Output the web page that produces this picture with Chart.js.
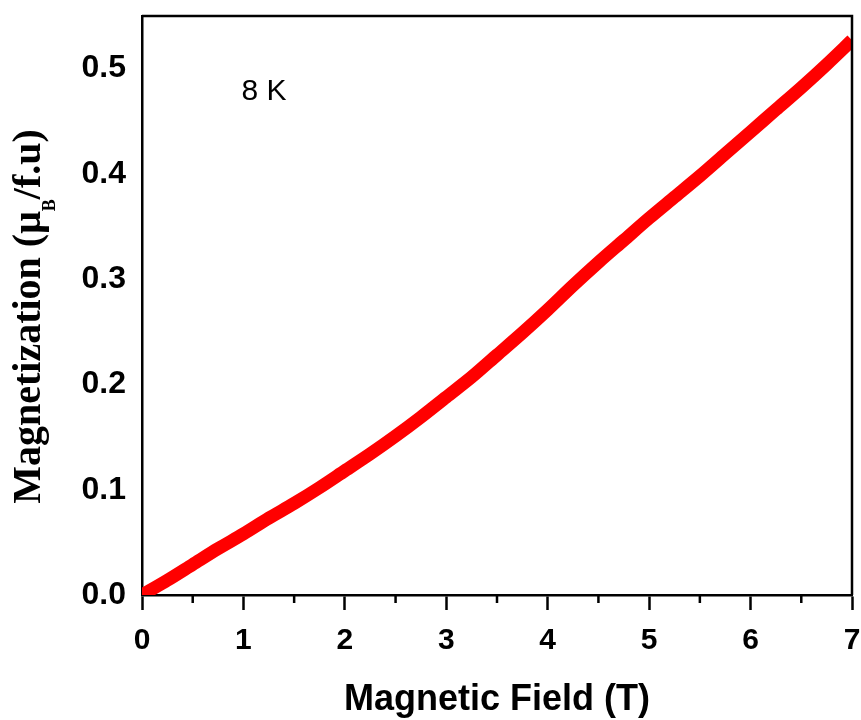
<!DOCTYPE html>
<html>
<head>
<meta charset="utf-8">
<title>M(H) at 8 K</title>
<script src="https://cdn.jsdelivr.net/npm/chart.js@4.4.0/dist/chart.umd.min.js"></script>
<style>
  html, body { margin: 0; padding: 0; background: #fff; }
</style>
</head>
<body>
<canvas id="mh_chart" width="861" height="720"></canvas>
<script>
// magnetization vs applied field, 8 K
var field = [0, 0.25, 0.5, 0.75, 1.0, 1.25, 1.5, 1.75, 2.0, 2.25, 2.5, 2.75, 3.0, 3.25, 3.5,
             3.75, 4.0, 4.25, 4.5, 4.75, 5.0, 5.25, 5.5, 5.75, 6.0, 6.25, 6.5, 6.75, 7.0];
var magnetization = [0.000, 0.014, 0.029, 0.044, 0.058, 0.073, 0.087, 0.102, 0.118, 0.134, 0.151,
                     0.169, 0.188, 0.207, 0.228, 0.249, 0.271, 0.294, 0.316, 0.337, 0.358, 0.378,
                     0.398, 0.419, 0.440, 0.461, 0.482, 0.504, 0.527];
var xTicks = [0, 1, 2, 3, 4, 5, 6, 7];
var xMinorTicks = [0.5, 1.5, 2.5, 3.5, 4.5, 5.5, 6.5];
var yTicks = ['0.0', '0.1', '0.2', '0.3', '0.4', '0.5'];
var tempLabel = '8 K';

var points = field.map(function(h, i) {
    return { x: h, y: magnetization[i] };
});

var sans = '"Liberation Sans", Arial, Helvetica, sans-serif';
var serif = '"Liberation Serif", "Times New Roman", serif';

// box frame, minor ticks, rotated y title with subscript, temperature label
var decorations = {
    id: 'decorations',
    afterDraw: function(chart) {
        var ctx = chart.ctx;
        var area = chart.chartArea;
        var xs = chart.scales.x;
        var ys = chart.scales.y;
        ctx.save();

        ctx.strokeStyle = '#000';
        ctx.lineWidth = 2.5;
        ctx.beginPath();
        ctx.moveTo(area.left, area.top);
        ctx.lineTo(area.right, area.top);
        ctx.lineTo(area.right, area.bottom);
        ctx.stroke();

        ctx.beginPath();
        xMinorTicks.forEach(function(v) {
            var px = xs.getPixelForValue(v);
            ctx.moveTo(px, area.bottom);
            ctx.lineTo(px, area.bottom + 8);
        });
        ctx.stroke();

        ctx.fillStyle = '#000';
        ctx.font = '30px ' + sans;
        ctx.textAlign = 'left';
        ctx.textBaseline = 'middle';
        ctx.fillText(tempLabel, xs.getPixelForValue(0.98), ys.getPixelForValue(0.478));

        var parts = [
            ['Magnetization (\u03bc', 'bold 40px ' + serif, 0],
            ['B', 'bold 18px ' + serif, 20],
            ['/f.u)', 'bold 40px ' + serif, 0]
        ];
        var total = 0;
        parts.forEach(function(p) {
            ctx.font = p[1];
            total += ctx.measureText(p[0]).width;
        });
        ctx.translate(30, (area.top + area.bottom) / 2 + 11);
        ctx.rotate(-Math.PI / 2);
        var pos = -total / 2;
        parts.forEach(function(p) {
            ctx.font = p[1];
            ctx.fillText(p[0], pos, p[2]);
            pos += ctx.measureText(p[0]).width;
        });
        ctx.restore();
    }
};

var chart = new Chart(document.getElementById('mh_chart'), {
    type: 'line',
    data: {
        datasets: [{
            data: points,
            borderColor: '#ff0000',
            borderWidth: 13,
            pointRadius: 0,
            tension: 0.3,
            borderJoinStyle: 'round',
            clip: 0
        }]
    },
    options: {
        responsive: false,
        animation: false,
        devicePixelRatio: 1,
        layout: { padding: { top: 16, right: 9, left: 0, bottom: 0 } },
        plugins: {
            legend: { display: false },
            tooltip: { enabled: false }
        },
        scales: {
            x: {
                type: 'linear',
                min: 0,
                max: 7,
                afterFit: function(scale) {
                    scale.height = 125;
                    scale.paddingLeft = 0;
                    scale.paddingRight = 0;
                },
                afterBuildTicks: function(scale) {
                    scale.ticks = xTicks.map(function(v) { return { value: v }; });
                },
                ticks: {
                    color: '#000',
                    padding: 13,
                    maxRotation: 0,
                    font: { family: sans, size: 30, weight: 'bold' },
                    callback: function(v) { return String(v); }
                },
                grid: {
                    drawOnChartArea: false,
                    drawTicks: true,
                    tickLength: 15,
                    tickWidth: 2.5,
                    tickColor: '#000'
                },
                border: { display: true, color: '#000', width: 2.5 },
                title: {
                    display: true,
                    text: 'Magnetic Field (T)',
                    color: '#000',
                    font: { family: sans, size: 36, weight: 'bold', lineHeight: 1 },
                    padding: { top: 0, bottom: 2 }
                }
            },
            y: {
                type: 'linear',
                min: 0,
                max: 0.55,
                afterFit: function(scale) {
                    scale.width = 142;
                    scale.paddingTop = 0;
                    scale.paddingBottom = 0;
                },
                afterBuildTicks: function(scale) {
                    scale.ticks = yTicks.map(function(t) { return { value: parseFloat(t) }; });
                },
                ticks: {
                    color: '#000',
                    padding: 16,
                    font: { family: sans, size: 32, weight: 'bold' },
                    callback: function(v) { return Number(v).toFixed(1); }
                },
                grid: { drawOnChartArea: false, drawTicks: false },
                border: { display: true, color: '#000', width: 2.5 }
            }
        }
    },
    plugins: [decorations]
});
</script>
</body>
</html>
